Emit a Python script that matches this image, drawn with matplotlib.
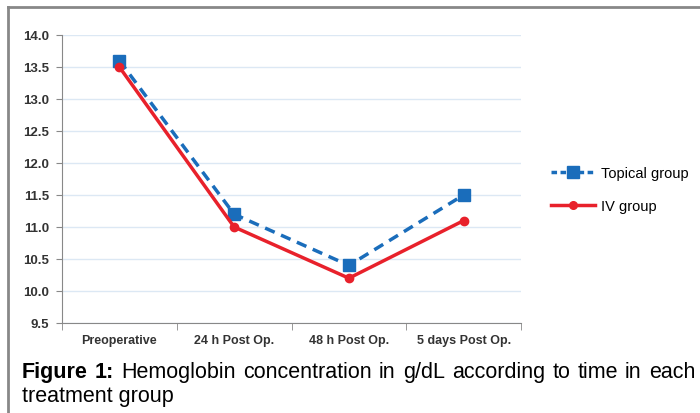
import matplotlib.pyplot as plt
from matplotlib.lines import Line2D

categories = ['Preoperative', '24 h Post Op.', '48 h Post Op.', '5 days Post Op.']
topical = [13.6, 11.2, 10.4, 11.5]
iv = [13.5, 11.0, 10.2, 11.1]
y_ticks = [9.5, 10.0, 10.5, 11.0, 11.5, 12.0, 12.5, 13.0, 13.5, 14.0]
caption_label = 'Figure 1:'
caption_line1 = 'Hemoglobin concentration in g/dL according to time in each'
caption_line2 = 'treatment group'

W, H = 700, 414
plt.rcParams['font.family'] = ['Liberation Sans', 'DejaVu Sans']
fig = plt.figure(figsize=(7, 4.14), dpi=100)

# axes in pixel coords: x 62..521, y 36..324
ax = fig.add_axes([62 / W, 1 - 324 / H, (521 - 62) / W, (324 - 36) / H])

blue, red = '#1a6dbb', '#e8212b'
x = list(range(len(categories)))
ax.plot(x, topical, color=blue, lw=2.5, ls=(0, (3, 2)), marker='s', ms=8.5,
        label='Topical group')
ax.plot(x, iv, color=red, lw=2.5, marker='o', ms=6, label='IV group')

ax.set_xlim(-0.5, len(categories) - 0.5)
ax.set_ylim(9.5, 14.0)
ax.set_yticks(y_ticks)
ax.set_yticklabels([f'{v:.1f}' for v in y_ticks], fontsize=9.5, fontweight='bold', color='#333333')
ax.set_xticks(x)
ax.set_xticklabels(categories, fontsize=9, fontweight='bold', color='#333333')
ax.set_xticks([i - 0.5 for i in range(len(categories) + 1)], minor=True)
ax.tick_params(axis='x', which='major', length=0, pad=8)
ax.tick_params(axis='x', which='minor', length=5, color='#888888')
ax.tick_params(axis='y', length=4, color='#888888', pad=5)

ax.grid(axis='y', color='#dce8f4', lw=1)
ax.set_axisbelow(True)
for s in ['top', 'right']:
    ax.spines[s].set_visible(False)
for s in ['left', 'bottom']:
    ax.spines[s].set_color('#888888')

handles = [
    Line2D([], [], color=blue, lw=2.5, ls=(0, (1.6, 1)), marker='s', ms=8),
    Line2D([], [], color=red, lw=2.5, marker='o', ms=5.5),
]
fig.legend(handles, ['Topical group', 'IV group'], loc='upper left',
           bbox_to_anchor=(538 / W, 1 - 154 / H), frameon=False, fontsize=10.5,
           handlelength=3.0, labelspacing=1.3, handletextpad=0.4)

# caption, first line justified between x=22 and x=695
fs = 15.5
renderer = fig.canvas.get_renderer()
parts = [(w, 'bold') for w in caption_label.split()] + [(w, 'normal') for w in caption_line1.split()]
texts = [fig.text(0, 1 - 373 / H, w, fontsize=fs, fontweight=fw, va='center') for w, fw in parts]
widths = [t.get_window_extent(renderer).width for t in texts]
left, right = 22, 695
gap = (right - left - sum(widths)) / (len(texts) - 1)
pos = left
for t, wd in zip(texts, widths):
    t.set_x(pos / W)
    pos += wd + gap
fig.text(left / W, 1 - 397 / H, caption_line2, fontsize=fs, va='center')

# outer frame (left and top edges)
fig.add_artist(Line2D([8 / W, 8 / W], [0, 1 - 8 / H], color='#888888', lw=2))
fig.add_artist(Line2D([8 / W, 1], [1 - 8 / H, 1 - 8 / H], color='#888888', lw=2))

fig.savefig('out.png', dpi=100)
